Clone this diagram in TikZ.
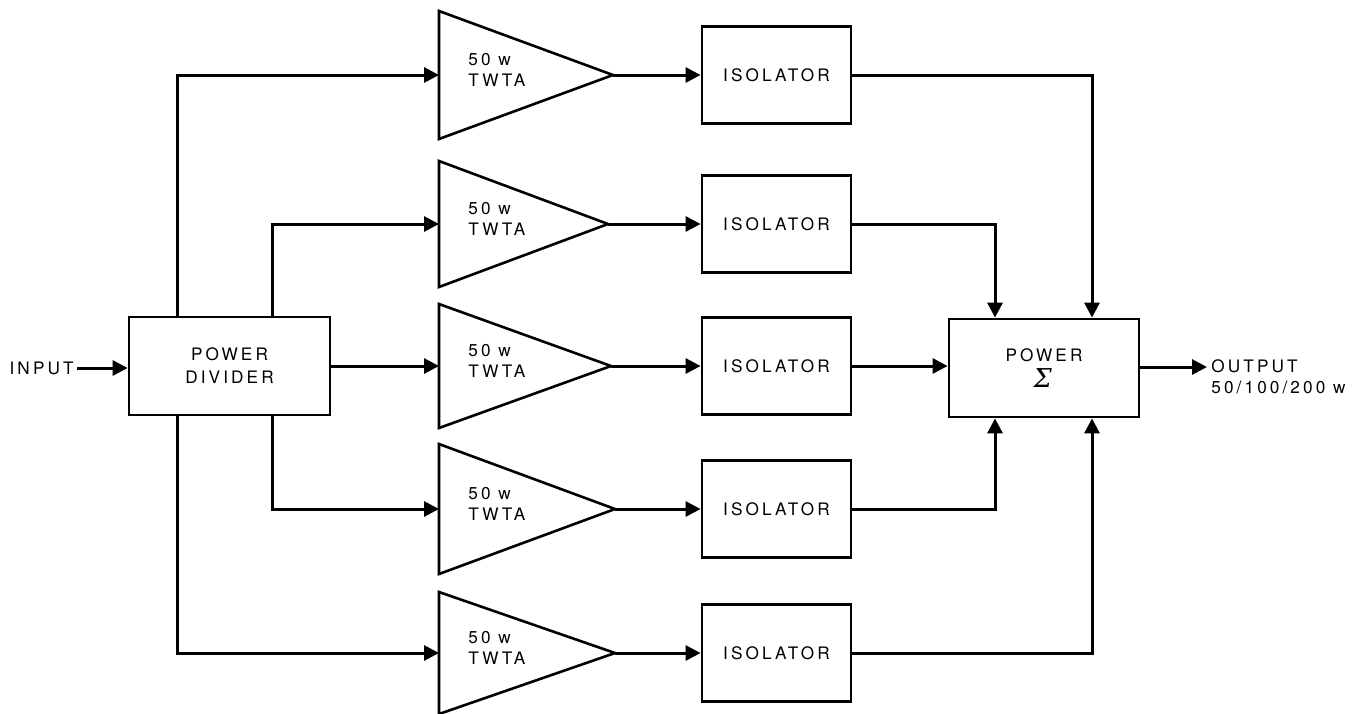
\documentclass[tikz,border=0pt]{standalone}
\usepackage{fontspec}
\setmainfont{TeX Gyre Heros}[LetterSpace=18]
\newfontfamily\sigfont{DejaVu Serif}[FakeSlant=0.18]
\usetikzlibrary{arrows.meta}
\begin{document}
\begin{tikzpicture}[x=0.5pt,y=-0.5pt,
  lbl/.style={font=\fontsize{8.6}{10.5}\selectfont, inner sep=0pt, align=center},
  blk/.style={draw, line width=1.4pt, lbl},
  amp/.style={draw, line width=1.3pt, line join=miter},
  conn/.style={line width=1.5pt},
  arr/.style={conn, -{Triangle[length=7.5pt,width=7.5pt]}},
]
\useasboundingbox (0,0) rectangle (1353,713);

% blocks
\node[blk, minimum width=100.5pt, minimum height=49pt] (div) at (229.5,366) {POWER\\[1pt]DIVIDER};
\node[blk, minimum width=95pt, minimum height=49pt] (sum) at (1044,368) {POWER\\[2.5pt]\hspace*{-3pt}{\sigfont\fontsize{13}{13}\selectfont Σ}};

\foreach \i/\y/\t in {1/75/613, 2/224/608, 3/366/611, 4/509/615, 5/653/615}{
  \node[blk, minimum width=74.5pt, minimum height=48.5pt] (iso\i) at (776.5,\y) {ISOLATOR};
  \coordinate (tin\i) at (439,\y);
  \coordinate (tout\i) at (\t,\y);
}
% amplifier triangles
\foreach \i/\y/\h in {1/75/64, 2/224/63, 3/366/62, 4/509/65, 5/653/61}{
  \draw[amp] (439,\y-\h) -- (tout\i) -- (439,\y+\h) -- cycle;
  \node[lbl, anchor=west, align=left] (tw\i) at (468,\y-5) {50 w\\TWTA};
}

% input / output
\node[lbl, anchor=east] (in) at (74,368) {INPUT};
\draw[arr] (in.east) ++(3,0) coordinate (inx) -- (div.west |- inx);
\coordinate (outend) at (1207,367);
\draw[arr] (sum.east |- outend) -- (outend);
\node[lbl, anchor=west, align=left] (out) at (1211,377) {OUTPUT\\50/100/200 w};

% divider branches
\coordinate (bA) at (177,0);
\coordinate (bB) at (272,0);
\draw[arr] (div.north -| bA) |- (tin1);
\draw[arr] (div.north -| bB) |- (tin2);
\draw[arr] (div.east |- tin3) -- (tin3);
\draw[arr] (div.south -| bB) |- (tin4);
\draw[arr] (div.south -| bA) |- (tin5);

% amplifier to isolator
\foreach \i in {1,...,5}{
  \draw[arr] (tout\i) -- (iso\i.west |- tout\i);
}

% isolators to combiner
\coordinate (jA) at (995,0);
\coordinate (jB) at (1092,0);
\draw[arr] (iso1.east) -| (sum.north -| jB);
\draw[arr] (iso2.east) -| (sum.north -| jA);
\draw[arr] (iso3.east) -- (sum.west |- iso3.east);
\draw[arr] (iso4.east) -| (sum.south -| jA);
\draw[arr] (iso5.east) -| (sum.south -| jB);
\end{tikzpicture}
\end{document}
